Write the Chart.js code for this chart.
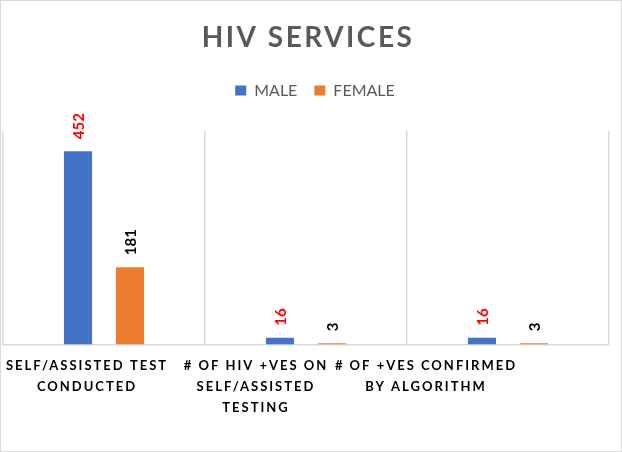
<!DOCTYPE html>
<html>
<head>
<meta charset="utf-8">
<script src="https://cdn.jsdelivr.net/npm/chart.js@4.4.1/dist/chart.umd.min.js"></script>
<style>
  html, body { margin: 0; padding: 0; background: #fff; }
  #wrap { width: 620px; height: 450px; border: 1px solid #d9d9d9; position: relative; }
</style>
</head>
<body>
<div id="wrap"><canvas id="myChart"></canvas></div>
<script>
const categories = [
  ['SELF/ASSISTED TEST', 'CONDUCTED'],
  ['# OF HIV +VES ON', 'SELF/ASSISTED', 'TESTING'],
  ['# OF +VES CONFIRMED', 'BY ALGORITHM']
];
const maleValues = [452, 16, 16];
const femaleValues = [181, 3, 3];
const yMax = 500;

// the reference draws its category labels a little left of the category centre
const labelShift = [-17, -50, -82];
const legendShift = 9;

const spacingPlugin = {
  id: 'spacing',
  beforeDraw(chart) {
    const tb = chart.titleBlock;
    if (tb && !tb._spaced) {
      const orig = tb.draw.bind(tb);
      tb.draw = function () {
        const c = chart.ctx;
        c.save();
        c.letterSpacing = '2.5px';
        c.translate(2, 0);
        orig();
        c.restore();
      };
      tb._spaced = true;
    }
    const lg = chart.legend;
    if (lg && !lg._spaced) {
      const orig = lg.draw.bind(lg);
      lg.draw = function () {
        const c = chart.ctx;
        c.save();
        c.translate(legendShift, 0);
        orig();
        c.restore();
      };
      lg._spaced = true;
    }
    const x = chart.scales.x;
    if (x && !x._spaced) {
      const orig = x.drawLabels.bind(x);
      x.drawLabels = function (area) {
        const items = this.getLabelItems(area);
        items.forEach((it, i) => {
          if (!it._shifted) {
            it.options.translation[0] += labelShift[i] || 0;
            it._shifted = true;
          }
        });
        const c = chart.ctx;
        c.save();
        c.letterSpacing = '2px';
        orig(area);
        c.restore();
      };
      x._spaced = true;
    }
  }
};

const valueLabels = {
  id: 'valueLabels',
  afterDatasetsDraw(chart) {
    const ctx = chart.ctx;
    const colors = ['#ff0000', '#000000'];
    chart.data.datasets.forEach((ds, di) => {
      const meta = chart.getDatasetMeta(di);
      meta.data.forEach((bar, i) => {
        ctx.save();
        ctx.translate(bar.x, bar.y - 12);
        ctx.rotate(-Math.PI / 2);
        ctx.font = 'bold 15px Lato';
        ctx.fillStyle = colors[di];
        ctx.textAlign = 'left';
        ctx.textBaseline = 'middle';
        ctx.fillText(String(ds.data[i]), 0, 1);
        ctx.restore();
      });
    });
  }
};

const ctx = document.getElementById('myChart').getContext('2d');
new Chart(ctx, {
  type: 'bar',
  data: {
    labels: categories,
    datasets: [{
      label: 'MALE',
      data: maleValues,
      backgroundColor: '#4472c4',
      categoryPercentage: 0.515,
      barPercentage: 0.54
    }, {
      label: 'FEMALE',
      data: femaleValues,
      backgroundColor: '#ed7d31',
      categoryPercentage: 0.515,
      barPercentage: 0.54
    }]
  },
  options: {
    responsive: true,
    maintainAspectRatio: false,
    animation: false,
    devicePixelRatio: 1,
    layout: { padding: { left: 2, right: 12, top: 0, bottom: 22 } },
    plugins: {
      title: {
        display: true,
        text: 'HIV SERVICES',
        color: '#595959',
        font: { family: 'Lato', size: 28, weight: 'bold', lineHeight: 1.2 },
        padding: { top: 20, bottom: 11 }
      },
      legend: {
        display: true,
        position: 'top',
        labels: {
          color: '#595959',
          font: { family: 'Lato', size: 16 },
          boxWidth: 11,
          boxHeight: 10,
          padding: 17
        }
      },
      subtitle: {
        display: true,
        text: ' ',
        weight: 500,
        font: { size: 10, lineHeight: 1 },
        padding: { top: 0, bottom: 12 }
      },
      tooltip: { enabled: false }
    },
    scales: {
      x: {
        grid: {
          offset: true,
          color: '#d9d9d9',
          lineWidth: 1.5,
          drawTicks: false
        },
        border: { color: '#d9d9d9', width: 1.5 },
        ticks: {
          color: '#000000',
          font: { family: 'Lato', size: 13, weight: 'bold', lineHeight: 1.6 },
          padding: 11,
          autoSkip: false,
          maxRotation: 0,
          minRotation: 0
        }
      },
      y: {
        display: false,
        min: 0,
        max: yMax
      }
    }
  },
  plugins: [spacingPlugin, valueLabels]
});
</script>
</body>
</html>
